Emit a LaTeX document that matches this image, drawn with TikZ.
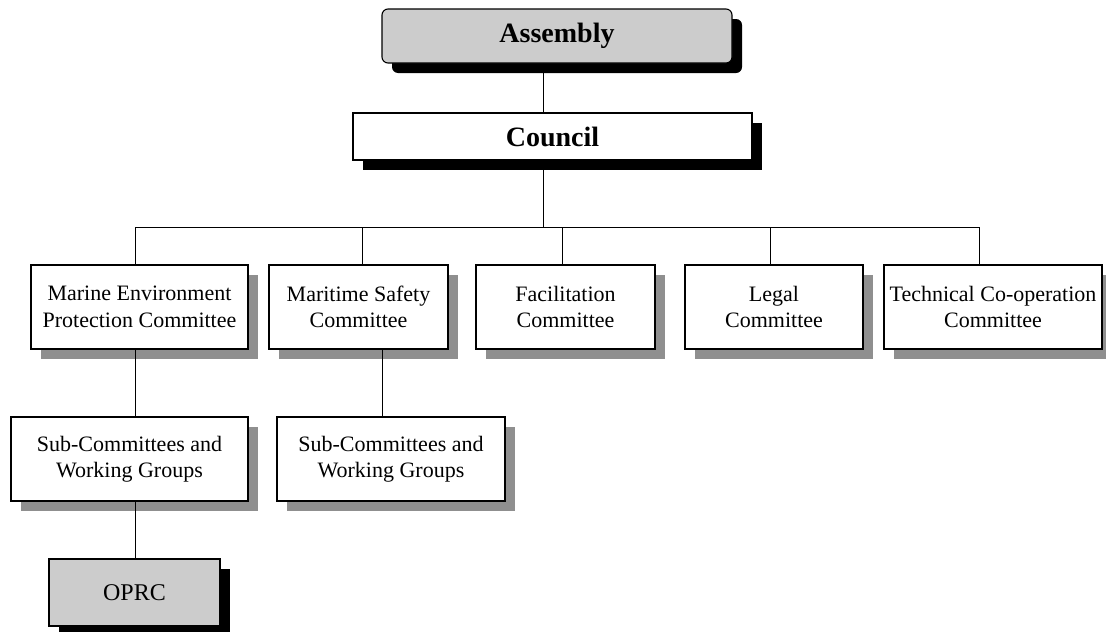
\documentclass[tikz,border=0pt]{standalone}
\usepackage{fontspec}
\setmainfont{Liberation Serif}
\usetikzlibrary{positioning,shadows}

\begin{document}
\begin{tikzpicture}[x=1pt, y=-1pt,
    box/.style={draw, line width=1.1pt, fill=white, align=center, inner sep=0pt, minimum height=84pt, font=\fontsize{22}{26.5}\selectfont},
    greyshadow/.style={drop shadow={shadow xshift=10pt, shadow yshift=-10pt, fill=black!44, opacity=1}},
    blackshadow/.style={drop shadow={shadow xshift=10pt, shadow yshift=-10pt, fill=black, opacity=1}},
    headbox/.style={box, blackshadow, font=\bfseries\fontsize{28}{32}\selectfont},
    link/.style={line width=0.9pt}
]
\useasboundingbox (0,0) rectangle (1106,632);
\node[headbox, fill=black!20, rounded corners=6pt, minimum width=350pt, minimum height=54pt] (assembly) at (557,36) {Assembly};
\node[headbox, minimum width=399pt, minimum height=47pt] (council) at (552.5,136.5) {Council};
\node[box, greyshadow, minimum width=217pt] (mepc) at (139.5,307) {Marine Environment\\Protection Committee};
\node[box, greyshadow, minimum width=179pt] (msc) at (358.5,307) {Maritime Safety\\Committee};
\node[box, greyshadow, minimum width=179pt] (fac) at (565.5,307) {Facilitation\\Committee};
\node[box, greyshadow, minimum width=178pt] (legal) at (774,307) {Legal\\Committee};
\node[box, greyshadow, minimum width=218pt] (tech) at (993,307) {Technical Co-operation\\Committee};
\node[box, greyshadow, minimum width=237pt] (subl) at (129.5,459) {Sub-Committees and\\Working Groups};
\node[box, greyshadow, minimum width=228pt] (subr) at (391,459) {Sub-Committees and\\Working Groups};
\node[box, blackshadow, fill=black!20, minimum width=171pt, minimum height=67pt, font=\fontsize{24}{28}\selectfont] (oprc) at (134.5,592.5) {OPRC};

% tree lines
\coordinate (bus) at (543,227);
\coordinate (mepc top) at ([xshift=-4.5pt]mepc.north);
\coordinate (msc top) at ([xshift=3.5pt]msc.north);
\coordinate (fac top) at ([xshift=-3.5pt]fac.north);
\coordinate (legal top) at ([xshift=-4pt]legal.north);
\coordinate (tech top) at ([xshift=-14pt]tech.north);
\coordinate (msc low) at ([xshift=23.5pt]msc.south);
\draw[link] (assembly.south -| bus) -- (council.north -| bus);
\draw[link] (council.south -| bus) -- (bus);
\foreach \n in {mepc, msc, fac, legal, tech}
  \draw[link] (\n\space top) -- (\n\space top |- bus);
\draw[link] (mepc top |- bus) -- (tech top |- bus);
\draw[link] (mepc top |- mepc.south) -- (mepc top |- subl.north);
\draw[link] (mepc top |- subl.south) -- (mepc top |- oprc.north);
\draw[link] (msc low) -- (msc low |- subr.north);
\end{tikzpicture}
\end{document}
